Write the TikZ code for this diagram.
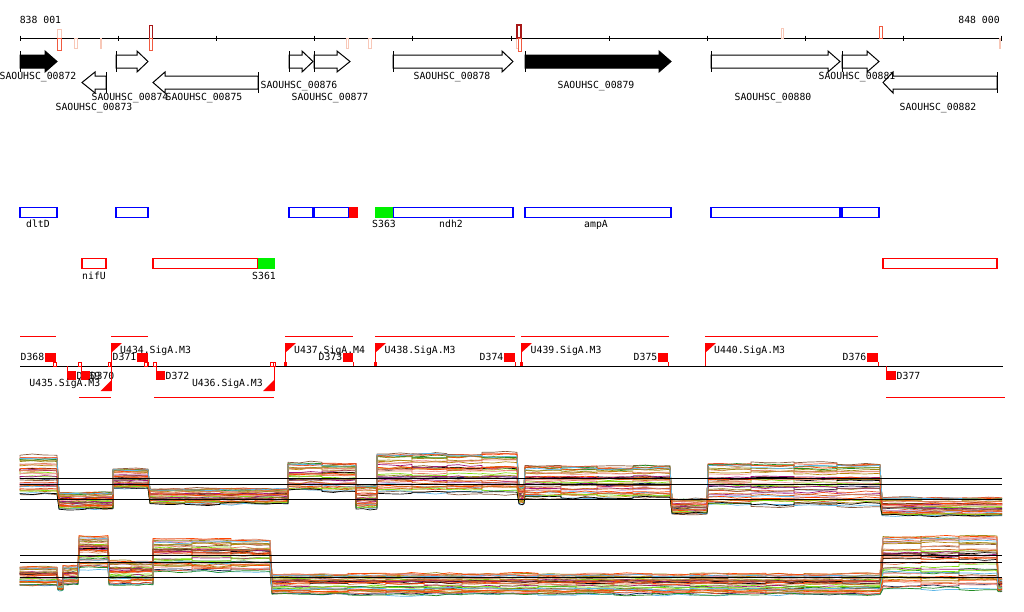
\documentclass[tikz,border=0pt]{standalone}
\usepackage{fontspec}
\usepackage{tikz}
\newfontfamily\lblfont{DejaVu Sans Mono}
\definecolor{paleRed}{HTML}{F8C8B8}
\definecolor{midRed}{HTML}{F05A40}
\definecolor{darkRed}{HTML}{A81818}
\definecolor{featBlue}{HTML}{0000FF}
\definecolor{featGreen}{HTML}{00F000}
\definecolor{tA}{HTML}{E8542B}
\definecolor{tB}{HTML}{9B8B1A}
\definecolor{tC}{HTML}{80E010}
\definecolor{tD}{HTML}{A0157E}
\definecolor{tE}{HTML}{5CB6E8}
\definecolor{tF}{HTML}{8B5A3C}
\definecolor{tG}{HTML}{E08060}
\definecolor{tH}{HTML}{15204F}
\definecolor{tI}{HTML}{C8A0D8}
\definecolor{tJ}{HTML}{D2691E}
\definecolor{tK}{HTML}{228B22}
\definecolor{tL}{HTML}{F4A0A0}
\definecolor{tM}{HTML}{B8860B}
\definecolor{tN}{HTML}{7B3F00}
\definecolor{tO}{HTML}{FF4500}
\definecolor{tP}{HTML}{000000}
\tikzset{
  lbl/.style = {inner sep = 0, text height = 7.2pt, text depth = 0pt, font = \lblfont\fontsize{9.8}{10}\selectfont},
  gene/.style = {draw = black, line width = 1pt},
  feat/.style = {line width = 1.2pt},
  hitbox/.style = {line width = 0.9pt},
  sig/.style = {draw = red, line width = 1pt},
  trace/.style = {line width = 0.7pt, line join = round},
  ref/.style = {draw = black, line width = 1pt}
}
% gene arrows: [fill] {x start} {x head} {x end}
\newcommand{\fwdgene}[4][none]{\draw [gene, fill = #1] (#2,55) -- (#3,55) -- (#3,51) -- (#4,61.5) -- (#3,72) -- (#3,68) -- (#2,68) -- cycle; \draw [gene] (#2,51) -- (#2,72);}
\newcommand{\revgene}[4][none]{\draw [gene, fill = #1] (#4,76) -- (#3,76) -- (#3,72) -- (#2,82.5) -- (#3,93) -- (#3,89) -- (#4,89) -- cycle; \draw [gene] (#4,72) -- (#4,93);}
% trace levels: x from / x to / y top / y bottom
\def\segA{20/57/455/497, 59/86/492/510, 86/113/492/510, 113/148/468/490,
  150/185/488/505, 185/220/488/505, 220/255/488/505, 255/288/488/505,
  288/322/462/493, 322/356/462/493, 356/377/485/510,
  377/412/452/495, 412/447/452/495, 447/482/452/495, 482/517/452/495, 519/524/485/505,
  525/561/465/500, 561/597/465/500, 597/633/465/500, 633/670/465/500, 672/707/498/515,
  708/751/462/508, 751/794/462/508, 794/837/462/508, 837/880/462/508,
  882/922/497/517, 922/962/497/517, 962/1002/497/517}
\def\segB{20/57/566/586, 58/63/580/590, 63/78/565/585, 79/108/534/570, 109/131/560/585, 131/153/560/585,
  153/192/538/572, 192/231/538/572, 231/270/538/572,
  272/310/573/595, 310/348/573/595, 348/386/573/595, 386/424/573/595, 424/462/573/595, 462/500/573/595,
  500/538/573/595, 538/576/573/595, 576/614/573/595, 614/652/573/595, 652/690/573/595, 690/728/573/595,
  728/766/573/595, 766/804/573/595, 804/842/573/595, 842/880/573/595,
  883/921/533/590, 921/959/533/590, 959/997/533/590, 998/1002/578/592}
\def\tracecolors{tA,tB,tC,tD,tE,tF,tG,tH,tI,tJ,tK,tL,tM,tN,tO,tP,tA,tB,tC,tD,tE,tF,tG,tJ,tK,tL,tM,tO,tA,tC,tG,tP,tD,tF,tJ,tB,tO,tE}

\begin{document}
\begin{tikzpicture}[x = 1pt, y = -1pt]
\useasboundingbox (0,0) rectangle (1024,611);

% ruler
\node [lbl] (startpos) at (40.5,20) {838 001};
\node [lbl] (endpos) at (979,20) {848 000};
\draw [line width = 1pt] (20.5,38) -- (1002,38);
\foreach \t in {0,...,10} \draw [line width = 0.9pt] ({20.5+98.1*\t},35.5) -- ++(0,5);
\draw [hitbox, paleRed] (57,29) rectangle (61,38);
\draw [hitbox, midRed] (57,38) rectangle (61,50);
\draw [hitbox, paleRed] (74,38) rectangle (77,48);
\draw [hitbox, paleRed] (100,38) rectangle (101,48);
\draw [hitbox, darkRed] (149,25) rectangle (152,38);
\draw [hitbox, midRed] (149,38) rectangle (152,50);
\draw [hitbox, paleRed] (346,38) rectangle (348,48);
\draw [hitbox, paleRed] (368,38) rectangle (371,48);
\draw [hitbox, paleRed] (516,38) rectangle (518,48);
\draw [hitbox, darkRed, line width = 1.3pt] (517,25) rectangle (521,38);
\draw [hitbox, midRed] (518,38) rectangle (521,51);
\draw [hitbox, paleRed] (781,28) rectangle (783,38);
\draw [hitbox, midRed] (879,26) rectangle (882,38);
\draw [hitbox, paleRed] (999,38) rectangle (1000,48);

% genes
\fwdgene[black]{20}{45}{57}
\fwdgene{116}{137}{148}
\fwdgene{289}{302}{313}
\fwdgene{314}{337}{350}
\fwdgene{393}{502}{513}
\fwdgene[black]{525}{659}{671}
\fwdgene{711}{828}{840}
\fwdgene{842}{867}{879}
\revgene{82}{95}{106}
\revgene{153}{165}{258}
\revgene{883}{893}{997}
\node [lbl] (g872) at (38,76) {SAOUHSC\_00872};
\node [lbl] (g873) at (94,107) {SAOUHSC\_00873};
\node [lbl] (g874) at (130,97) {SAOUHSC\_00874};
\node [lbl] (g875) at (204,97) {SAOUHSC\_00875};
\node [lbl] (g876) at (299,85) {SAOUHSC\_00876};
\node [lbl] (g877) at (330,97) {SAOUHSC\_00877};
\node [lbl] (g878) at (452,76) {SAOUHSC\_00878};
\node [lbl] (g879) at (596,85) {SAOUHSC\_00879};
\node [lbl] (g880) at (773,97) {SAOUHSC\_00880};
\node [lbl] (g881) at (857,76) {SAOUHSC\_00881};
\node [lbl] (g882) at (938,107) {SAOUHSC\_00882};

% features
\foreach \xa/\xb in {20/57, 116/148, 289/313, 314/349, 393/513, 525/671, 711/840, 842/879}
  \draw [feat, draw = featBlue] (\xa,207.5) rectangle (\xb,217.5);
\fill [red] (349,207) rectangle (357.5,218);
\fill [featGreen] (375,207) rectangle (393,218);
\foreach \xa/\xb in {82/106, 153/258, 883/997}
  \draw [feat, draw = red] (\xa,258.5) rectangle (\xb,268.5);
\fill [featGreen] (258,258) rectangle (274.5,269);
\node [lbl] (dltD) at (38,224) {dltD};
\node [lbl] (S363) at (384,224) {S363};
\node [lbl] (ndh2) at (451,224) {ndh2};
\node [lbl] (ampA) at (596,224) {ampA};
\node [lbl] (nifU) at (94,276) {nifU};
\node [lbl] (S361) at (264,276) {S361};

% transcription units
\draw [line width = 1pt] (20,366) -- (1003,366);
\foreach \xa/\xb in {20/56, 111/148, 285/353, 375/515, 521/669, 705/878}
  \draw [sig] (\xa,336) -- (\xb,336);
\foreach \xa/\xb in {79/111, 154/274, 886/1005}
  \draw [sig] (\xa,397) -- (\xb,397);
% terminators above
\foreach \n/\xa/\xb in {D368/45/56, D371/137/148, D373/343/353, D374/504/515, D375/658/668, D376/867/878} {
  \fill [red] (\xa,353) rectangle (\xb,362);
  \draw [sig] (\xb,362) -- (\xb,366);
  \node [lbl, anchor = east] (\n) at (\xa-0.5,357) {\n};
}
% terminators below
\foreach \n/\xa/\xb in {D369/67/76, D370/81/90, D372/156/165, D377/886/896} {
  \draw [sig] (\xa,366) -- (\xa,372);
  \fill [red] (\xa,371) rectangle (\xb,380);
  \node [lbl, anchor = west] (\n) at (\xb+0.5,375.5) {\n};
}
% promoters above
\foreach \n/\x in {U434/111, U437/285, U438/375, U439/521, U440/705} {
  \draw [sig] (\x,366) -- (\x,343);
  \fill [red] (\x,343) -- (\x+11,343) -- (\x,353) -- cycle;
}
\node [lbl, anchor = west] (U434) at (120,350) {U434.SigA.M3};
\node [lbl, anchor = west] (U437) at (294,350) {U437.SigA.M4};
\node [lbl, anchor = west] (U438) at (384.5,350) {U438.SigA.M3};
\node [lbl, anchor = west] (U439) at (530.5,350) {U439.SigA.M3};
\node [lbl, anchor = west] (U440) at (714,350) {U440.SigA.M3};
% promoters below
\foreach \n/\x in {U435/111.5, U436/274} {
  \draw [sig] (\x,366) -- (\x,391);
  \fill [red] (\x,380) -- (\x,391) -- (\x-11,391) -- cycle;
}
\node [lbl, anchor = east] (U435) at (100.5,383) {U435.SigA.M3};
\node [lbl, anchor = east] (U436) at (263,383) {U436.SigA.M3};
% small marks on the line
\foreach \x in {55, 80, 109.5, 146, 155, 272, 274.5}
  \draw [red, line width = 0.7pt] (\x-1.2,362) rectangle (\x+1.2,366);
\foreach \x in {285, 375, 521}
  \fill [red] (\x-1.5,362) rectangle (\x+1.5,366);

% expression traces
\pgfmathsetseed{11}
\foreach \c in \tracecolors {
  \pgfmathsetmacro{\f}{rnd}
  \draw [trace, \c] (20,{455+42*\f})
    \foreach \xa/\xb/\ya/\yb [evaluate = \ya as \yy using {\ya+(\f+0.04*rand)*(\yb-\ya)}] in \segA
    { -- (\xa,\yy) -- ({\xa+(\xb-\xa)/3},{\yy+1.2*rand}) -- ({\xa+2*(\xb-\xa)/3},{\yy+1.2*rand}) -- (\xb,\yy) };
}
\foreach \c in \tracecolors {
  \pgfmathsetmacro{\f}{rnd}
  \draw [trace, \c] (20,{566+20*\f})
    \foreach \xa/\xb/\ya/\yb [evaluate = \ya as \yy using {\ya+(\f+0.04*rand)*(\yb-\ya)}] in \segB
    { -- (\xa,\yy) -- ({\xa+(\xb-\xa)/3},{\yy+1.2*rand}) -- ({\xa+2*(\xb-\xa)/3},{\yy+1.2*rand}) -- (\xb,\yy) };
}
\foreach \y in {478, 484, 499, 555, 562, 577}
  \draw [ref] (20,\y) -- (1002,\y);
\end{tikzpicture}
\end{document}
